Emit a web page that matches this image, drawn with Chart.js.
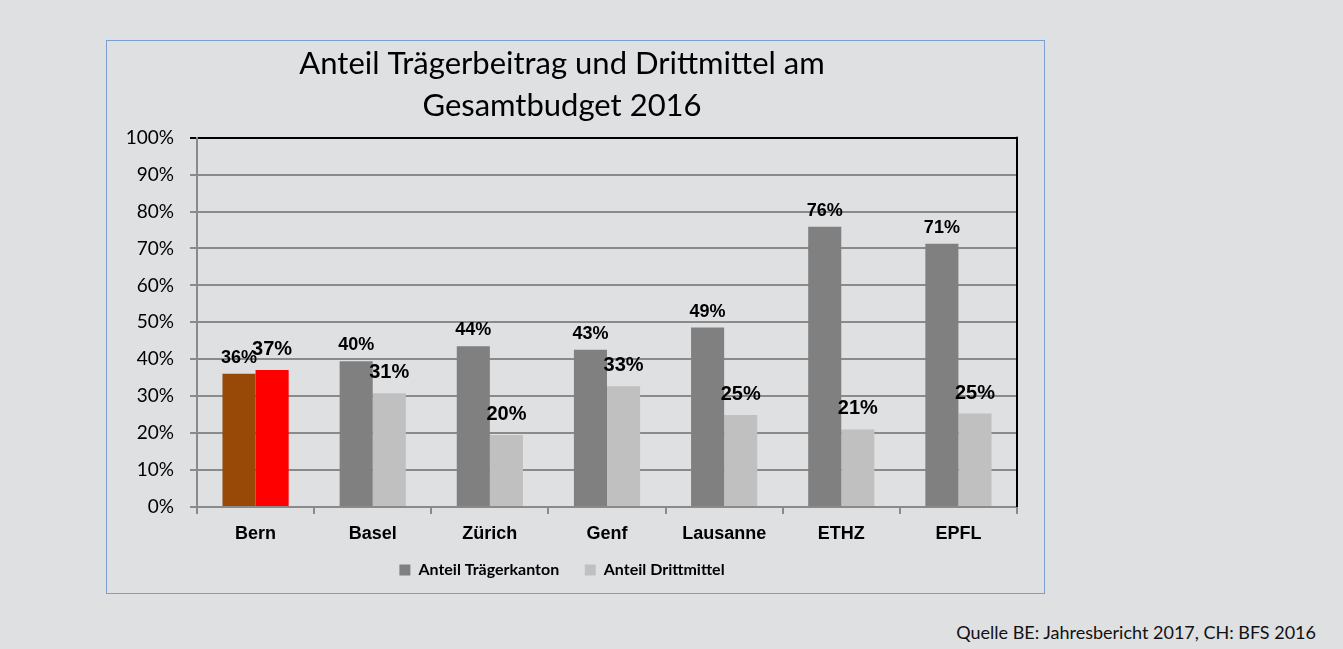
<!DOCTYPE html>
<html>
<head>
<meta charset="utf-8">
<script src="https://cdn.jsdelivr.net/npm/chart.js@4.4.1/dist/chart.umd.min.js"></script>
<style>
  html, body { margin: 0; padding: 0; }
  body { width: 1343px; height: 649px; background: #dfe0e2; position: relative; overflow: hidden; font-family: Lato, "Open Sans", sans-serif; }
  #box { position: absolute; left: 106px; top: 40px; width: 937px; height: 552px; border: 1px solid #7b9fd1; }
  #source { position: absolute; right: 27px; top: 621px; font-size: 18px; color: #111; }
</style>
</head>
<body>
<div id="box"><canvas id="chart" width="937" height="552"></canvas></div>
<div id="source">Quelle BE: Jahresbericht 2017, CH: BFS 2016</div>
<script>
var categories = ['Bern', 'Basel', 'Zürich', 'Genf', 'Lausanne', 'ETHZ', 'EPFL'];
var traegerkanton = [36.1, 39.5, 43.5, 42.6, 48.6, 75.9, 71.3];
var drittmittel = [37.1, 30.8, 19.5, 32.7, 24.9, 21.0, 25.3];
var seriesNames = ['Anteil Trägerkanton', 'Anteil Drittmittel'];
var yTicks = [0, 10, 20, 30, 40, 50, 60, 70, 80, 90, 100];

var darkGray = '#808080';
var lightGray = '#c0c0c0';
var bernColors = ['#984807', '#ff0000'];

function barColors(base, first) {
    return categories.map(function (c, i) { return i === 0 ? first : base; });
}

// value labels above the bars, like Excel's "outside end"
var valueLabels = {
    id: 'valueLabels',
    afterDatasetsDraw: function (chart) {
        var ctx = chart.ctx;
        var styles = [{ size: 18, gap: 11 }, { size: 20, gap: 15 }];
        chart.data.datasets.forEach(function (ds, di) {
            var meta = chart.getDatasetMeta(di);
            ctx.save();
            ctx.font = 'bold ' + styles[di].size + 'px "Liberation Sans", Arial, sans-serif';
            ctx.fillStyle = '#000';
            ctx.textAlign = 'center';
            ctx.textBaseline = 'alphabetic';
            meta.data.forEach(function (bar, i) {
                ctx.fillText(Math.round(ds.data[i]) + '%', bar.x, bar.y - styles[di].gap);
            });
            ctx.restore();
        });
    }
};

// black frame on the right of the plot area
var rightFrame = {
    id: 'rightFrame',
    afterDraw: function (chart) {
        var a = chart.chartArea;
        var ctx = chart.ctx;
        ctx.save();
        ctx.strokeStyle = '#000';
        ctx.lineWidth = 2;
        ctx.beginPath();
        ctx.moveTo(a.right, a.top - 1);
        ctx.lineTo(a.right, a.bottom);
        ctx.stroke();
        ctx.restore();
    }
};

new Chart(document.getElementById('chart').getContext('2d'), {
    type: 'bar',
    data: {
        labels: categories,
        datasets: [{
            label: seriesNames[0],
            data: traegerkanton,
            backgroundColor: barColors(darkGray, bernColors[0]),
            borderWidth: 0
        }, {
            label: seriesNames[1],
            data: drittmittel,
            backgroundColor: barColors(lightGray, bernColors[1]),
            borderWidth: 0
        }]
    },
    options: {
        responsive: false,
        animation: false,
        layout: { padding: { left: 0, right: 27, top: 0, bottom: 5 } },
        datasets: { bar: { categoryPercentage: 0.565, barPercentage: 1 } },
        plugins: {
            title: {
                display: true,
                text: ['Anteil Trägerbeitrag und Drittmittel am', 'Gesamtbudget 2016'],
                color: '#000',
                font: { family: 'Lato', size: 31, weight: 'normal', lineHeight: 1.35 },
                padding: { top: 2, bottom: 11 }
            },
            legend: {
                position: 'bottom',
                labels: {
                    color: '#000',
                    boxWidth: 11,
                    boxHeight: 11,
                    padding: 10,
                    font: { family: 'Lato', size: 16, weight: 'bold' },
                    generateLabels: function () {
                        return [
                            { text: seriesNames[0] + '    ', fillStyle: darkGray, strokeStyle: darkGray, lineWidth: 0, datasetIndex: 0 },
                            { text: seriesNames[1], fillStyle: lightGray, strokeStyle: lightGray, lineWidth: 0, datasetIndex: 1 }
                        ];
                    }
                }
            },
            tooltip: { enabled: false }
        },
        scales: {
            x: {
                offset: true,
                grid: { offset: true, drawOnChartArea: false, drawTicks: true, tickLength: 7, color: '#8a8a8a', lineWidth: 2 },
                border: { color: '#8a8a8a', width: 2 },
                ticks: {
                    color: '#000',
                    padding: 9,
                    font: { family: '"Liberation Sans", Arial, sans-serif', size: 18, weight: 'bold' }
                },
                afterFit: function (scale) { scale.height = 45; }
            },
            y: {
                min: 0,
                max: 100,
                afterBuildTicks: function (scale) {
                    scale.ticks = yTicks.map(function (v) { return { value: v }; });
                },
                grid: {
                    tickLength: 7,
                    lineWidth: 2,
                    color: function (ctx) { return ctx.tick && ctx.tick.value === 100 ? '#000' : '#8a8a8a'; }
                },
                border: { color: '#8a8a8a', width: 2 },
                ticks: {
                    color: '#000',
                    padding: 16,
                    font: { family: 'Lato', size: 19 },
                    callback: function (v) { return v + '%'; }
                },
                afterFit: function (scale) { scale.width = 90; }
            }
        }
    },
    plugins: [valueLabels, rightFrame]
});
</script>
</body>
</html>
